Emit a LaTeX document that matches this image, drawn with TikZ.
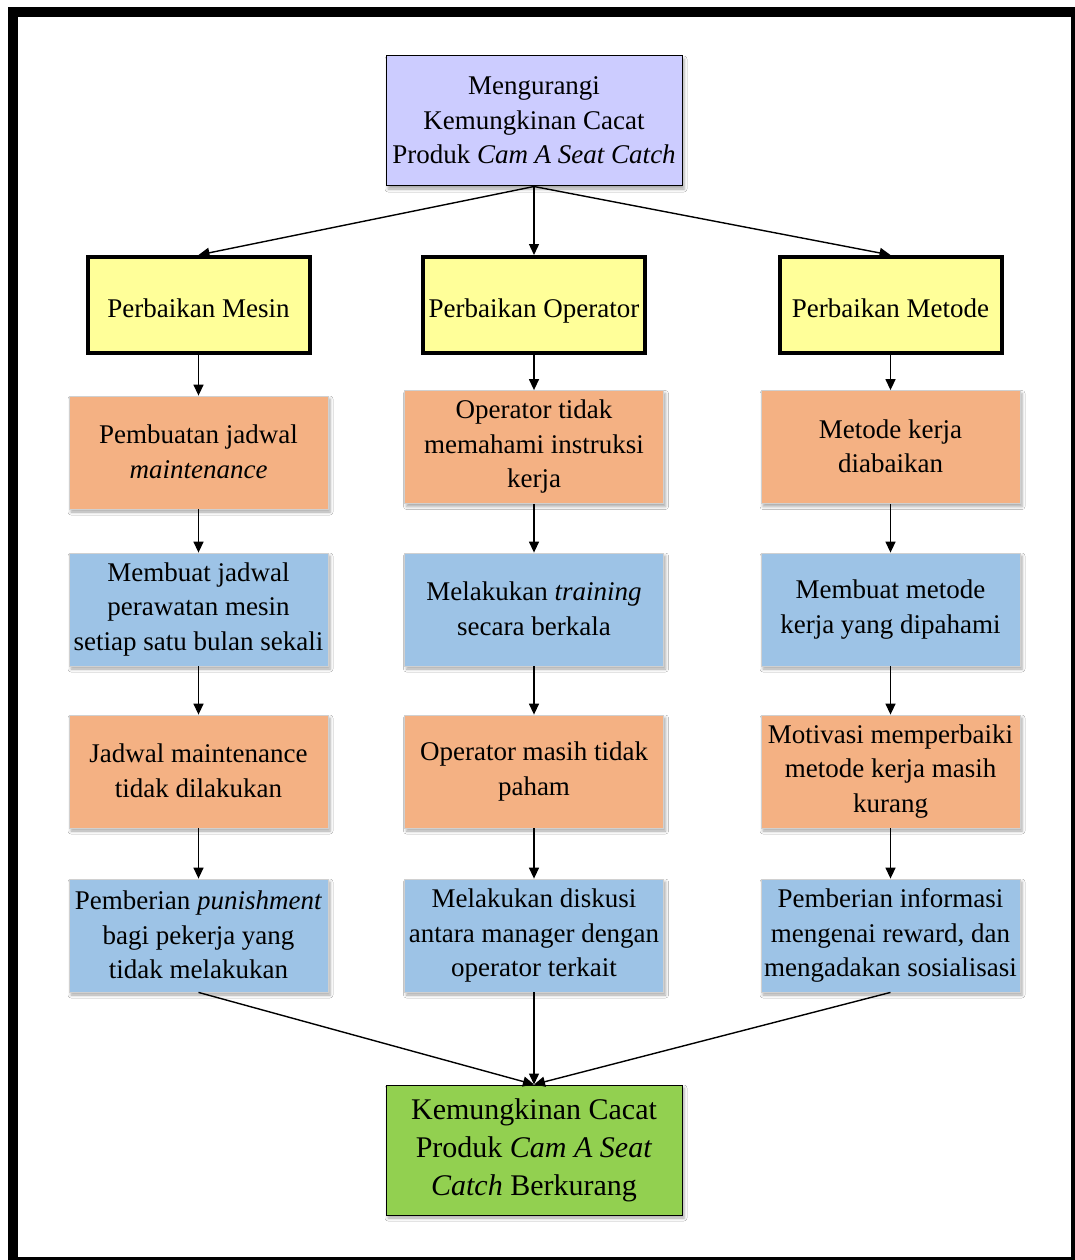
\documentclass[tikz,border=0pt]{standalone}
\usepackage{fontspec}
\setmainfont{Liberation Serif}
\usetikzlibrary{arrows.meta,shadows.blur}
\definecolor{lavender}{HTML}{CCCCFF}
\definecolor{paleyellow}{HTML}{FFFF99}
\definecolor{peach}{HTML}{F4B183}
\definecolor{skyblue}{HTML}{9DC3E6}
\definecolor{leafgreen}{HTML}{92D050}
\definecolor{edgegray}{HTML}{D0D0D0}
% invisible rule one line tall, dropped by #1 line heights, to set where text sits in its box
\newcommand\linestrut[1]{\rule[-#1\baselineskip]{0pt}{\baselineskip}}
\begin{document}
\begin{tikzpicture}[x=1pt,y=-1pt,
  txt/.style={rectangle, align=center, inner sep=0pt,
    font=\fontsize{27}{34.5}\selectfont,
    execute at begin node=\linestrut{0.04}, execute at end node=\linestrut{0.04}},
  soft/.style={blur shadow={shadow xshift=2pt, shadow yshift=-3pt,
    shadow blur radius=3pt, shadow opacity=35}},
  endbox/.style={txt, soft, draw=black, line width=1pt,
    minimum width=296pt, minimum height=130pt},
  areabox/.style={txt, draw=black, line width=4pt, fill=paleyellow,
    minimum width=222pt, minimum height=96pt,
    execute at begin node=\linestrut{0.22}, execute at end node=\linestrut{0.22}},
  causebox/.style={txt, soft, draw=edgegray, line width=0.8pt, fill=peach,
    minimum width=259pt, minimum height=113pt},
  actbox/.style={txt, soft, draw=edgegray, line width=0.8pt, fill=skyblue,
    minimum width=259pt, minimum height=113pt},
  link/.style={line width=1.4pt, -{Triangle[length=11pt,width=10pt]}}
]
\useasboundingbox (0,0) rectangle (1075,1260);
\fill[white] (0,0) rectangle (1075,1260);
\begin{scope}
  \clip (0,0) rectangle (1075,1260);
  \draw[line width=10pt] (13,12.5) rectangle (1076,1262);
\end{scope}

% goal at the top
\node[endbox, fill=lavender] (top) at (534,121)
  {Mengurangi\\Kemungkinan Cacat\\Produk \textit{Cam A Seat Catch}};

% improvement areas
\node[areabox] (m1) at (198.5,305) {Perbaikan Mesin};
\node[areabox] (m2) at (534,305) {Perbaikan Operator};
\node[areabox] (m3) at (890.5,305) {Perbaikan Metode};

% first causes
\node[causebox] (a1) at (198.5,452.5) {Pembuatan jadwal\\\textit{maintenance}};
\node[causebox] (a2) at (534,447) {Operator tidak\\memahami instruksi\\kerja};
\node[causebox] (a3) at (890.5,447) {Metode kerja\\diabaikan};

% first actions
\node[actbox] (b1) at (198.5,609.5) {Membuat jadwal\\perawatan mesin\\setiap satu bulan sekali};
\node[actbox] (b2) at (534,609.5) {Melakukan \textit{training}\\secara berkala};
\node[actbox] (b3) at (890.5,609.5) {Membuat metode\\kerja yang dipahami};

% remaining causes
\node[causebox] (c1) at (198.5,771.5) {Jadwal maintenance\\tidak dilakukan};
\node[causebox] (c2) at (534,771.5) {Operator masih tidak\\paham};
\node[causebox] (c3) at (890.5,771.5) {Motivasi memperbaiki\\metode kerja masih\\kurang};

% follow-up actions
\node[actbox] (d1) at (198.5,935.5) {Pemberian \textit{punishment}\\bagi pekerja yang\\tidak melakukan};
\node[actbox] (d2) at (534,935.5) {Melakukan diskusi\\antara manager dengan\\operator terkait};
\node[actbox] (d3) at (890.5,935.5) {Pemberian informasi\\mengenai reward, dan\\mengadakan sosialisasi};

% result at the bottom
\node[endbox, fill=leafgreen, font=\fontsize{30}{38}\selectfont] (goal) at (534,1150)
  {Kemungkinan Cacat\\Produk \textit{Cam A Seat}\\\textit{Catch} Berkurang};

% connectors
\draw[link] (top.south) -- (m1.north);
\draw[link] (top.south) -- (m2.north);
\draw[link] (top.south) -- (m3.north);
\foreach \c in {1,2,3} {
  \draw[link] (m\c.south) -- (a\c.north);
  \draw[link] (a\c.south) -- (b\c.north);
  \draw[link] (b\c.south) -- (c\c.north);
  \draw[link] (c\c.south) -- (d\c.north);
  \draw[link] (d\c.south) -- (goal.north);
}
\end{tikzpicture}
\end{document}
